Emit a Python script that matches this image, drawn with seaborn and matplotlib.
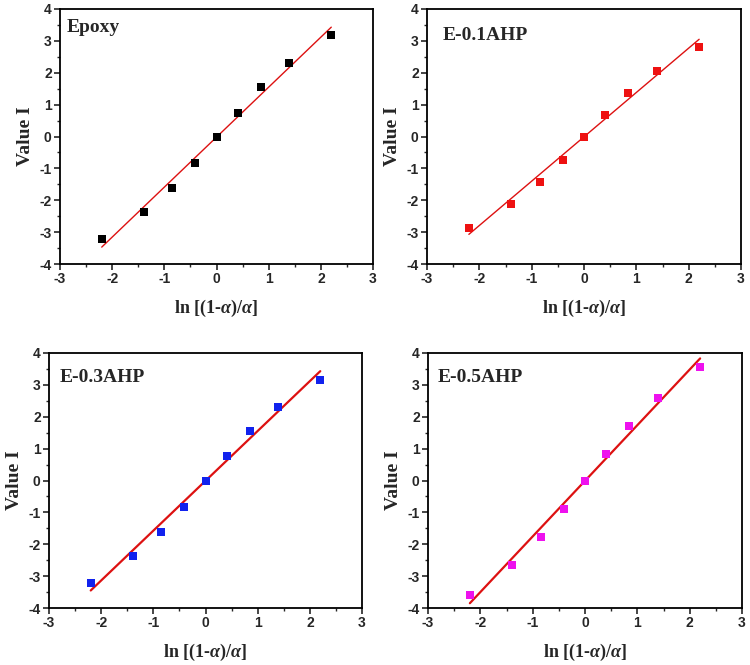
import matplotlib
matplotlib.use("Agg")
import matplotlib.pyplot as plt
import seaborn as sns
import pandas as pd
from matplotlib.ticker import MultipleLocator

sns.set_style("white")
plt.rcParams['font.family'] = ['Liberation Sans', 'DejaVu Sans']
plt.rcParams['axes.unicode_minus'] = False
plt.rcParams['mathtext.fontset'] = 'custom'
plt.rcParams['mathtext.rm'] = 'Liberation Serif:bold'
plt.rcParams['mathtext.it'] = 'Liberation Serif:bold:italic'
plt.rcParams['mathtext.bf'] = 'Liberation Serif:bold'

x_vals = [-2.20, -1.39, -0.85, -0.41, 0.0, 0.41, 0.85, 1.39, 2.20]
samples = ["Epoxy", "E-0.1AHP", "E-0.3AHP", "E-0.5AHP"]
y_epoxy = [-3.22, -2.38, -1.60, -0.82, -0.03, 0.75, 1.55, 2.30, 3.18]
y_e01 = [-2.87, -2.12, -1.43, -0.75, -0.03, 0.68, 1.38, 2.07, 2.80]
y_e03 = [-3.20, -2.38, -1.62, -0.83, -0.02, 0.77, 1.56, 2.32, 3.15]
y_e05 = [-3.60, -2.65, -1.76, -0.90, -0.02, 0.83, 1.72, 2.58, 3.57]
fit_x = [-2.20, 2.20]
fit_epoxy = [-3.47, 3.43]
fit_e01 = [-3.07, 3.05]
fit_e03 = [-3.45, 3.43]
fit_e05 = [-3.85, 3.83]

ys = [y_epoxy, y_e01, y_e03, y_e05]
fits = [fit_epoxy, fit_e01, fit_e03, fit_e05]
colors = ["#000000", "#ee1111", "#1122ee", "#ee11ee"]
line_w = [1.0, 1.0, 1.6, 1.6]

W, H = 750, 665
# axes boxes in pixels: left, top, right, bottom
boxes = [(60, 9, 373, 264), (427, 9, 741, 264), (49, 353, 362, 608), (428, 353, 742, 608)]
title_off = [(7, 10), (16, 18), (11, 16), (10, 16)]

fig = plt.figure(figsize=(7.5, 6.65), dpi=100)
for i in range(4):
    l, t, r, b = boxes[i]
    ax = fig.add_axes([l / W, 1 - b / H, (r - l) / W, (b - t) / H])
    df = pd.DataFrame({"x": x_vals, "y": ys[i]})
    sns.scatterplot(data=df, x="x", y="y", ax=ax, marker="s", s=30,
                    color=colors[i], edgecolor=colors[i], linewidth=0, zorder=3)
    dfl = pd.DataFrame({"x": fit_x, "y": fits[i]})
    sns.lineplot(data=dfl, x="x", y="y", ax=ax, color="#dd1111", lw=line_w[i], zorder=2)
    ax.set_xlim(-3, 3)
    ax.set_ylim(-4, 4)
    ax.xaxis.set_major_locator(MultipleLocator(1))
    ax.xaxis.set_minor_locator(MultipleLocator(0.5))
    ax.yaxis.set_major_locator(MultipleLocator(1))
    ax.yaxis.set_minor_locator(MultipleLocator(0.5))
    ax.tick_params(axis='both', which='major', direction='out', length=4, width=1.2,
                   labelsize=10, bottom=True, left=True, top=False, right=False, pad=2)
    ax.tick_params(axis='both', which='minor', direction='out', length=2.5, width=1.0,
                   bottom=True, left=True, top=False, right=False)
    for lab in ax.get_xticklabels() + ax.get_yticklabels():
        lab.set_fontweight('bold')
    for sp in ax.spines.values():
        sp.set_linewidth(1.3)
        sp.set_color('black')
    ax.set_xlabel(r'ln [(1-$\alpha$)/$\alpha$]', family='Liberation Serif',
                  fontweight='bold', fontsize=13, labelpad=8)
    ax.set_ylabel('Value I', family='Liberation Serif', fontweight='bold',
                  fontsize=14, labelpad=4)
    dx, dy = title_off[i]
    ax.text(dx / (r - l), 1 - dy / (b - t), samples[i], transform=ax.transAxes,
            ha='left', va='top', family='Liberation Serif', fontweight='bold', fontsize=14)
    ax.grid(False)

fig.savefig("out.png", dpi=100)
